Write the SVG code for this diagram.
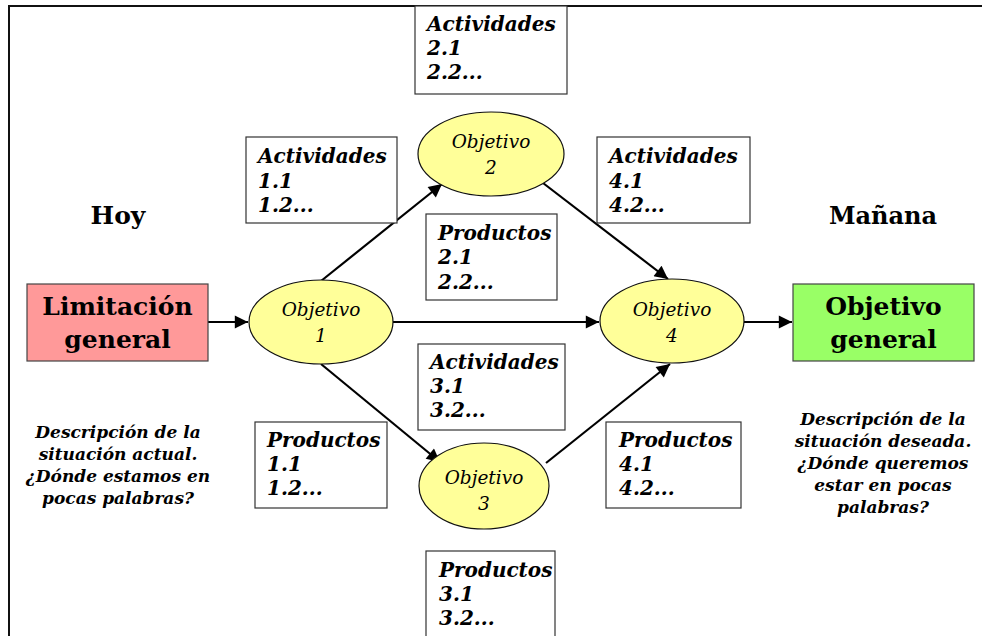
<svg xmlns="http://www.w3.org/2000/svg" width="982" height="636" viewBox="0 0 982 636">
  <style>
    .frame { fill: none; stroke: #111; stroke-width: 2; }
    .box { fill: #fff; stroke: #333; stroke-width: 1.2; }
    .obj { fill: #ffff99; stroke: #111; stroke-width: 1.2; }
    .big { stroke: #444; stroke-width: 1.2; }
    .edge { fill: none; stroke: #000; stroke-width: 2.2; }
    .bi { font-family: "DejaVu Serif", "Liberation Serif", serif; font-weight: bold; font-style: italic; font-size: 20px; fill: #000; }
    .it { font-family: "DejaVu Serif", "Liberation Serif", serif; font-style: italic; font-size: 18.5px; fill: #000; text-anchor: middle; }
    .b { font-family: "DejaVu Serif", "Liberation Serif", serif; font-weight: bold; fill: #000; text-anchor: middle; }
    .desc { font-family: "DejaVu Serif", "Liberation Serif", serif; font-weight: bold; font-style: italic; font-size: 17px; fill: #000; text-anchor: middle; }
  </style>
  <defs>
    <marker id="arrow" viewBox="0 0 10 10" refX="10" refY="5" markerWidth="7.5" markerHeight="6" markerUnits="strokeWidth" orient="auto">
      <path d="M0,0 L10,5 L0,10 z" fill="#000"/>
    </marker>
  </defs>

  <rect width="982" height="636" fill="#fff"/>
  <rect class="frame" x="9" y="6" width="985" height="640"/>

  <!-- connectors -->
  <g id="connectors">
    <line class="edge" x1="208" y1="322" x2="248" y2="322" marker-end="url(#arrow)"/>
    <line class="edge" x1="393" y1="322" x2="599" y2="322" marker-end="url(#arrow)"/>
    <line class="edge" x1="744" y1="322" x2="792" y2="322" marker-end="url(#arrow)"/>
    <line class="edge" x1="321" y1="281" x2="442" y2="184" marker-end="url(#arrow)"/>
    <line class="edge" x1="321" y1="364" x2="440" y2="462" marker-end="url(#arrow)"/>
    <line class="edge" x1="543" y1="183" x2="668" y2="279" marker-end="url(#arrow)"/>
    <line class="edge" x1="546" y1="463" x2="670" y2="364" marker-end="url(#arrow)"/>
  </g>

  <!-- headings -->
  <g id="hoy"><text class="b" x="118" y="224" font-size="25">Hoy</text></g>
  <g id="manana"><text class="b" x="883" y="224" font-size="24">Mañana</text></g>

  <!-- start and goal -->
  <g id="limitacion">
    <rect class="big" x="27" y="284" width="181" height="77" fill="#ff9999"/>
    <text class="b" x="117.5" y="315" font-size="25">Limitación</text>
    <text class="b" x="117.5" y="348" font-size="25">general</text>
  </g>
  <g id="objetivo-general">
    <rect class="big" x="793" y="284" width="181" height="77" fill="#99ff66"/>
    <text class="b" x="883.5" y="315" font-size="25">Objetivo</text>
    <text class="b" x="883.5" y="348" font-size="25">general</text>
  </g>

  <!-- objectives -->
  <g id="objetivo1">
    <ellipse class="obj" cx="321" cy="322" rx="72" ry="42"/>
    <text class="it" x="321" y="316">Objetivo</text>
    <text class="it" x="321" y="342">1</text>
  </g>
  <g id="objetivo2">
    <ellipse class="obj" cx="491" cy="154" rx="73" ry="42"/>
    <text class="it" x="491" y="148">Objetivo</text>
    <text class="it" x="491" y="174">2</text>
  </g>
  <g id="objetivo3">
    <ellipse class="obj" cx="484" cy="486" rx="65" ry="43"/>
    <text class="it" x="484" y="484">Objetivo</text>
    <text class="it" x="484" y="510">3</text>
  </g>
  <g id="objetivo4">
    <ellipse class="obj" cx="672" cy="321" rx="72" ry="42"/>
    <text class="it" x="672" y="316">Objetivo</text>
    <text class="it" x="672" y="342">4</text>
  </g>

  <!-- activity and product boxes -->
  <g id="actividades2">
    <rect class="box" x="415" y="6" width="152" height="88"/>
    <text class="bi" x="427" y="31">Actividades</text>
    <text class="bi" x="427" y="55">2.1</text>
    <text class="bi" x="427" y="79">2.2...</text>
  </g>
  <g id="actividades1">
    <rect class="box" x="246" y="137" width="151" height="86"/>
    <text class="bi" x="258" y="163">Actividades</text>
    <text class="bi" x="258" y="188">1.1</text>
    <text class="bi" x="258" y="212">1.2...</text>
  </g>
  <g id="actividades4">
    <rect class="box" x="597" y="137" width="153" height="86"/>
    <text class="bi" x="609" y="163">Actividades</text>
    <text class="bi" x="609" y="188">4.1</text>
    <text class="bi" x="609" y="212">4.2...</text>
  </g>
  <g id="productos2">
    <rect class="box" x="426" y="214" width="131" height="86"/>
    <text class="bi" x="438" y="240">Productos</text>
    <text class="bi" x="438" y="264">2.1</text>
    <text class="bi" x="438" y="289">2.2...</text>
  </g>
  <g id="actividades3">
    <rect class="box" x="418" y="344" width="147" height="86"/>
    <text class="bi" x="430" y="369">Actividades</text>
    <text class="bi" x="430" y="393">3.1</text>
    <text class="bi" x="430" y="417">3.2...</text>
  </g>
  <g id="productos1">
    <rect class="box" x="255" y="422" width="132" height="86"/>
    <text class="bi" x="267" y="447">Productos</text>
    <text class="bi" x="267" y="471">1.1</text>
    <text class="bi" x="267" y="495">1.2...</text>
  </g>
  <g id="productos4">
    <rect class="box" x="606" y="422" width="135" height="86"/>
    <text class="bi" x="619" y="447">Productos</text>
    <text class="bi" x="619" y="471">4.1</text>
    <text class="bi" x="619" y="495">4.2...</text>
  </g>
  <g id="productos3">
    <rect class="box" x="426" y="551" width="129" height="95"/>
    <text class="bi" x="439" y="577">Productos</text>
    <text class="bi" x="439" y="601">3.1</text>
    <text class="bi" x="439" y="625">3.2...</text>
  </g>

  <!-- situation descriptions -->
  <g id="desc-actual">
    <text class="desc" x="118" y="438">Descripción de la</text>
    <text class="desc" x="118" y="460">situación actual.</text>
    <text class="desc" x="118" y="482">¿Dónde estamos en</text>
    <text class="desc" x="118" y="504">pocas palabras?</text>
  </g>
  <g id="desc-deseada">
    <text class="desc" x="883" y="425">Descripción de la</text>
    <text class="desc" x="883" y="447">situación deseada.</text>
    <text class="desc" x="883" y="469">¿Dónde queremos</text>
    <text class="desc" x="883" y="491">estar en pocas</text>
    <text class="desc" x="883" y="513">palabras?</text>
  </g>
</svg>
